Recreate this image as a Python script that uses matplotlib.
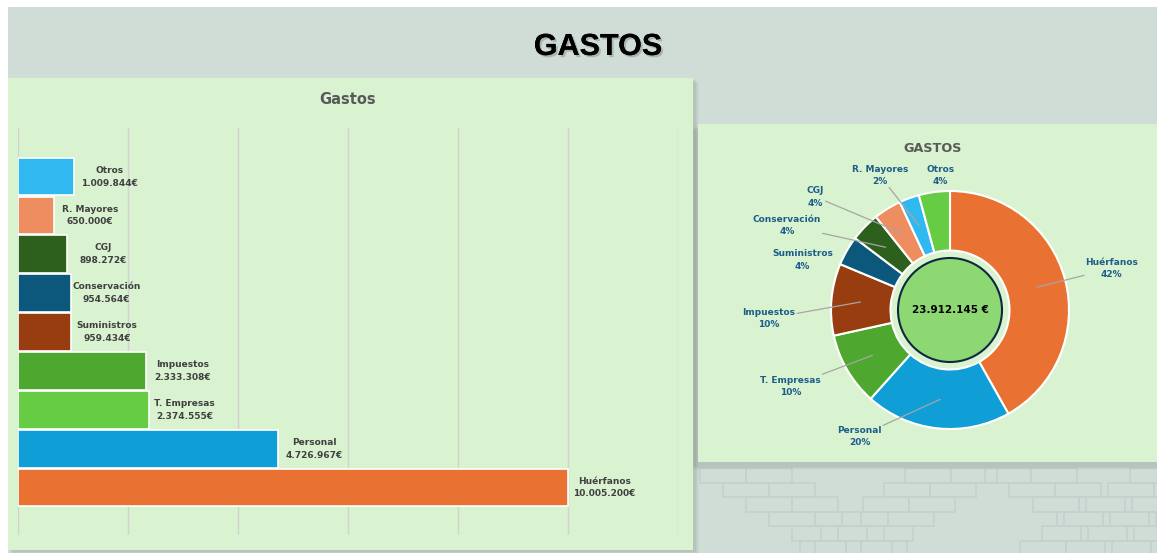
import numpy as np
import matplotlib
matplotlib.use('Agg')
import matplotlib.pyplot as plt
import matplotlib.patheffects as pe
from matplotlib.patches import Rectangle, Circle

# data (top to bottom in the bar chart)
categories = ['Otros', 'R. Mayores', 'CGJ', 'Conservación', 'Suministros',
              'Impuestos', 'T. Empresas', 'Personal', 'Huérfanos']
values = [1009844, 650000, 898272, 954564, 959434,
          2333308, 2374555, 4726967, 10005200]
value_labels = ['1.009.844€', '650.000€', '898.272€', '954.564€', '959.434€',
                '2.333.308€', '2.374.555€', '4.726.967€', '10.005.200€']
pct_labels = ['4%', '2%', '4%', '4%', '4%', '10%', '10%', '20%', '42%']
total_label = '23.912.145 €'

bar_colors = ['#30B8F0', '#EE8D5F', '#2D5F1D', '#0C587C', '#973D10',
              '#4EA72E', '#66CC44', '#0F9ED5', '#E97132']
# donut goes clockwise from the top, starting with Huérfanos
donut_colors = ['#E97132', '#0F9ED5', '#4EA72E', '#973D10', '#0C587C',
                '#2D5F1D', '#EE8D5F', '#30B8F0', '#66CC44']

W, H = 1157, 553
fig = plt.figure(figsize=(W / 100, H / 100), dpi=100)
fig.patch.set_facecolor('white')

# background layer in pixel coords
bg = fig.add_axes([0, 0, 1, 1])
bg.set_xlim(0, W)
bg.set_ylim(H, 0)
bg.axis('off')
bg.add_patch(Rectangle((8, 7), W - 8, H - 7, fc='#CFDDD6', ec='none'))

# faint brick texture under the right panel
brick_w, brick_h = 46, 14.5
for x0, step in [(700, 23), (905, -21), (985, 24), (1130, -22)]:
    for r in range(6):
        yb = 468 + brick_h * r
        for b in range(2):
            xb = x0 + step * r + b * brick_w
            bg.add_patch(Rectangle((xb, yb), brick_w, brick_h, fc='none',
                                   ec='#C6D1CD', lw=1.3))

# shadows
for k, a in enumerate([0.10, 0.08, 0.06, 0.04]):
    bg.add_patch(Rectangle((10 + k, 80 + k), 686, 472, fc='#6F7F78', ec='none', alpha=a))
    bg.add_patch(Rectangle((694 - k, 127 + k), 470, 340, fc='#6F7F78', ec='none', alpha=a))
bg.add_patch(Rectangle((8, 78), 685, 472, fc='#D9F2D0', ec='none'))
bg.add_patch(Rectangle((698, 124), 470, 338, fc='#D9F2D0', ec='none'))

fig.text(598 / W, 1 - 47 / H, 'GASTOS', ha='center', va='center',
         fontsize=22, fontweight='bold', family=['Liberation Sans', 'DejaVu Sans'],
         color='black',
         path_effects=[pe.withSimplePatchShadow(offset=(1.5, -1.5), shadow_rgbFace='#6A6A6A', alpha=0.35),
                       pe.Normal()])

# ---- bar chart ----
ax = fig.add_axes([18 / W, 1 - 535 / H, 660 / W, 407 / H])
ax.set_facecolor('none')
y = np.arange(len(categories))[::-1]
ax.barh(y, values, height=0.97, color=bar_colors, edgecolor='white', linewidth=1.2, zorder=3)
ax.set_xlim(0, 12000000)
ax.set_ylim(-1.22, 9.25)
ax.set_xticks(np.arange(0, 12000001, 2000000))
ax.set_yticks([])
ax.tick_params(axis='x', length=0, labelbottom=False)
ax.grid(axis='x', color='#D2D2D2', linewidth=1, zorder=0)
for s in ax.spines.values():
    s.set_visible(False)
for yi, v, name, lab in zip(y, values, categories, value_labels):
    ax.annotate(name + '\n' + lab, xy=(v, yi), xytext=(26, 0), textcoords='offset points',
                ha='center', va='center', fontsize=6.5, fontweight='bold',
                color='#404040', linespacing=1.55)

fig.text(348 / W, 1 - 100 / H, 'Gastos', ha='center', va='center',
         fontsize=10.5, fontweight='bold', color='#595959')

# ---- donut ----
R = 119.0
cx, cy = 950, 310
aw, ah = 440, 330
dax = fig.add_axes([(cx - aw / 2) / W, (H - cy - ah / 2) / H, aw / W, ah / H])
dax.set_facecolor('none')
donut_vals = values[::-1]
donut_names = categories[::-1]
donut_pcts = pct_labels[::-1]
wedges, _ = dax.pie(donut_vals, colors=donut_colors, startangle=90, counterclock=False,
                    radius=1.0, wedgeprops=dict(width=0.5, edgecolor='white', linewidth=1.5))
dax.set_xlim(-aw / 2 / R, aw / 2 / R)
dax.set_ylim(-ah / 2 / R, ah / 2 / R)
dax.axis('off')
dax.add_patch(Circle((0, 0), 0.437, fc='#8ED873', ec='#0E2841', lw=1.5, zorder=5))
dax.text(0, 0, total_label, ha='center', va='center', fontsize=7.5,
         fontweight='bold', color='black', zorder=6)

# label layout (donut units)
label_pos = [(1.36, 0.35), (-0.76, -1.06), (-1.34, -0.64), (-1.52, -0.07),
             (-1.24, 0.42), (-1.37, 0.71), (-1.13, 0.95), (-0.59, 1.13), (-0.08, 1.13)]
show_line = [True, True, True, True, False, True, True, True, False]
for w, name, pct, pos, sl in zip(wedges, donut_names, donut_pcts, label_pos, show_line):
    ang = np.deg2rad((w.theta1 + w.theta2) / 2)
    p = (0.755 * np.cos(ang), 0.755 * np.sin(ang))
    props = dict(arrowstyle='-', color='#A6A6A6', lw=0.9, shrinkA=0, shrinkB=0) if sl else None
    dax.annotate(name + '\n' + pct, xy=p, xytext=pos, ha='center', va='center',
                 fontsize=6.5, fontweight='bold', color='#1D5D8A', linespacing=1.45,
                 bbox=dict(boxstyle='square,pad=0.15', fc='none', ec='none'),
                 arrowprops=props, zorder=7)

fig.text(933 / W, 1 - 148 / H, 'GASTOS', ha='center', va='center',
         fontsize=9.2, fontweight='bold', color='#595959')

fig.savefig('out.png', dpi=100)
